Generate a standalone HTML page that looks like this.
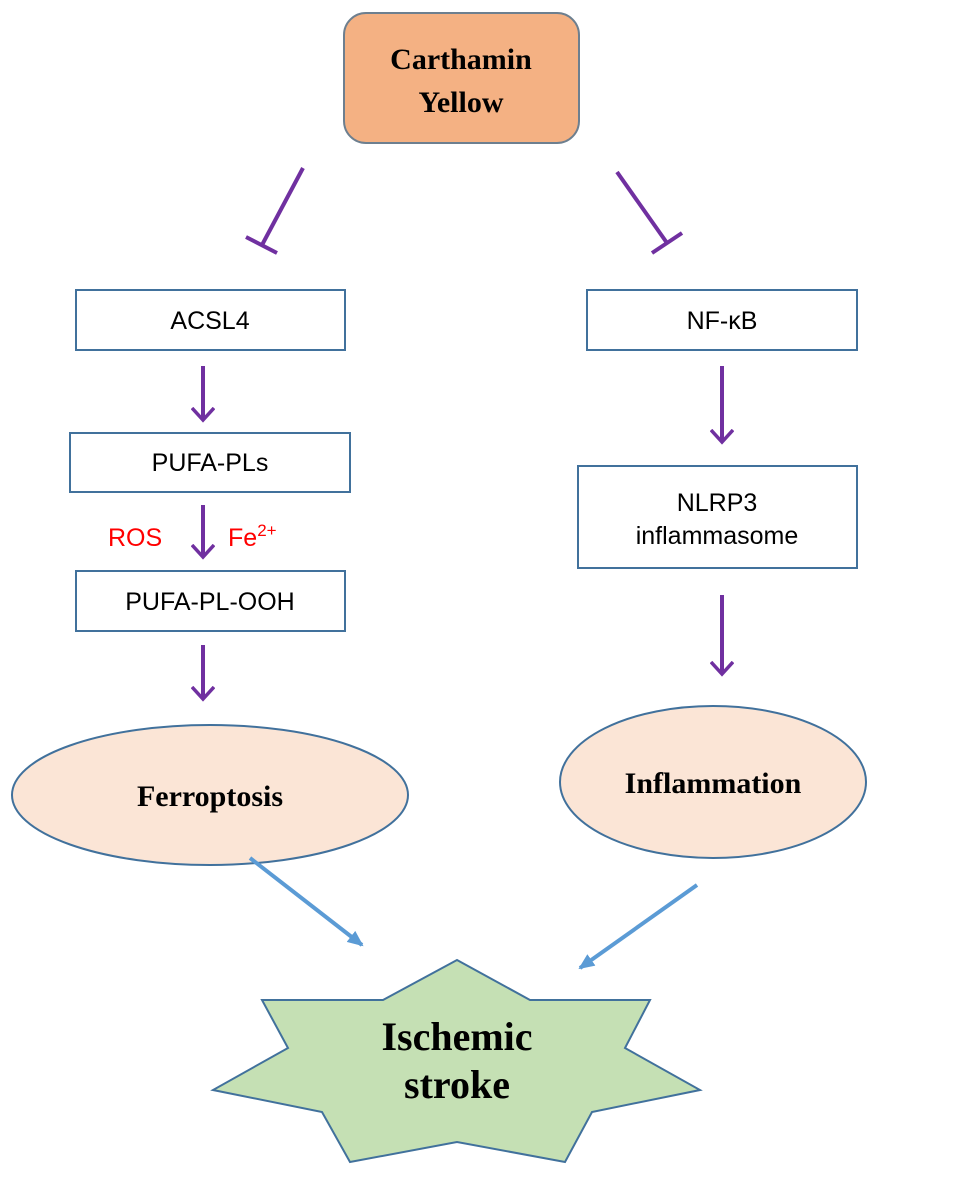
<!DOCTYPE html>
<html><head><meta charset="utf-8"><style>
html,body{margin:0;padding:0;background:#fff;}
svg{display:block}
</style></head><body>
<svg width="969" height="1177" viewBox="0 0 969 1177" xmlns="http://www.w3.org/2000/svg">
<defs>
<marker id="pa" markerWidth="24" markerHeight="24" refX="13" refY="12" orient="auto" markerUnits="userSpaceOnUse"><path d="M1,1 L13,12 L1,23" fill="none" stroke="#7030a0" stroke-width="3.5"/></marker>
<marker id="ba" markerWidth="16" markerHeight="14" refX="14" refY="7" orient="auto" markerUnits="userSpaceOnUse"><path d="M0,0 L16,7 L0,14 Z" fill="#5b9bd5"/></marker>
</defs>
<rect x="344" y="13" width="235" height="130" rx="22" fill="#f4b183" stroke="#6d7f8f" stroke-width="2"/>
<text x="461" y="69" text-anchor="middle" font-family="Liberation Serif" font-weight="bold" font-size="30">Carthamin</text>
<text x="461" y="112" text-anchor="middle" font-family="Liberation Serif" font-weight="bold" font-size="30">Yellow</text>
<g stroke="#7030a0" stroke-width="4" fill="none">
<line x1="303" y1="168" x2="262" y2="245"/><line x1="246" y1="237" x2="277" y2="253"/>
<line x1="617" y1="172" x2="667" y2="243"/><line x1="652" y1="253" x2="682" y2="233"/>
</g>
<g fill="#fff" stroke="#41719c" stroke-width="2">
<rect x="76" y="290" width="269" height="60"/>
<rect x="587" y="290" width="270" height="60"/>
<rect x="70" y="433" width="280" height="59"/>
<rect x="76" y="571" width="269" height="60"/>
<rect x="578" y="466" width="279" height="102"/>
</g>
<g font-family="Liberation Sans" font-size="25" text-anchor="middle" fill="#000">
<text x="210" y="329">ACSL4</text>
<text x="722" y="329">NF-κB</text>
<text x="210" y="471">PUFA-PLs</text>
<text x="210" y="610">PUFA-PL-OOH</text>
<text x="717" y="511">NLRP3</text>
<text x="717" y="544">inflammasome</text>
</g>
<text x="108" y="546" font-family="Liberation Sans" font-size="25" fill="#ff0000">ROS</text>
<text x="228" y="546" font-family="Liberation Sans" font-size="25" fill="#ff0000">Fe<tspan font-size="17" dy="-10">2+</tspan></text>
<g stroke="#7030a0" stroke-width="4" marker-end="url(#pa)">
<line x1="203" y1="366" x2="203" y2="420"/>
<line x1="203" y1="505" x2="203" y2="557"/>
<line x1="203" y1="645" x2="203" y2="699"/>
<line x1="722" y1="366" x2="722" y2="442"/>
<line x1="722" y1="595" x2="722" y2="674"/>
</g>
<ellipse cx="210" cy="795" rx="198" ry="70" fill="#fbe5d6" stroke="#41719c" stroke-width="2"/>
<ellipse cx="713" cy="782" rx="153" ry="76" fill="#fbe5d6" stroke="#41719c" stroke-width="2"/>
<text x="210" y="806" text-anchor="middle" font-family="Liberation Serif" font-weight="bold" font-size="30">Ferroptosis</text>
<text x="713" y="793" text-anchor="middle" font-family="Liberation Serif" font-weight="bold" font-size="30">Inflammation</text>
<g stroke="#5b9bd5" stroke-width="4" marker-end="url(#ba)">
<line x1="250" y1="858" x2="362" y2="945"/>
<line x1="697" y1="885" x2="580" y2="968"/>
</g>
<polygon points="457,960 530,1000 650,1000 625,1048 700,1090 592,1112 565,1162 457,1142 350,1162 322,1112 213,1090 288,1048 262,1000 383,1000" fill="#c5e0b4" stroke="#41719c" stroke-width="2"/>
<text x="457" y="1050" text-anchor="middle" font-family="Liberation Serif" font-weight="bold" font-size="40">Ischemic</text>
<text x="457" y="1098" text-anchor="middle" font-family="Liberation Serif" font-weight="bold" font-size="40">stroke</text>
</svg>
</body></html>
